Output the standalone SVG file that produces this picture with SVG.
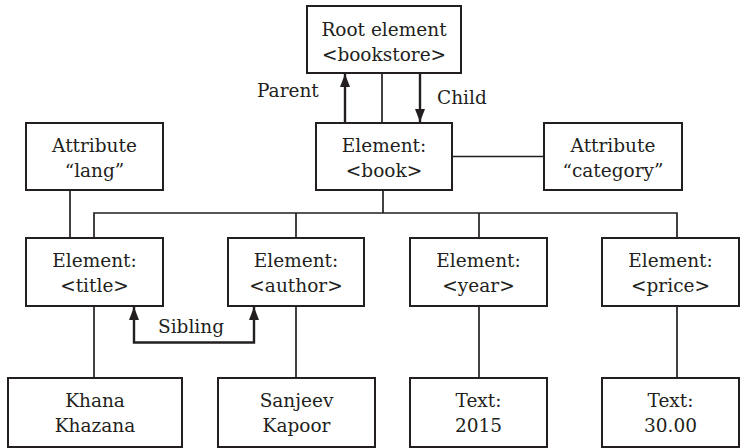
<svg xmlns="http://www.w3.org/2000/svg" width="744" height="448" viewBox="0 0 744 448">
<defs>
<marker id="ah" viewBox="0 0 13 10" refX="13" refY="5" markerUnits="userSpaceOnUse" markerWidth="13" markerHeight="10" orient="auto-start-reverse">
<path d="M0,0 L13,5 L0,10 Z" fill="#231f20"/>
</marker>
<style>
rect{fill:#fff;stroke:#231f20;stroke-width:2}
text{font-family:"DejaVu Serif","Liberation Serif",serif;font-size:18.5px;fill:#231f20;text-anchor:middle}
.ln{stroke:#231f20;stroke-width:1.7;fill:none}
.ar{stroke:#231f20;stroke-width:2.4;fill:none}
.lbl{text-anchor:start}
</style>
</defs>
<rect x="0" y="0" width="744" height="448" style="stroke:none;fill:#fff"/>
<g id="connectors">
<line class="ln" x1="382" y1="73" x2="382" y2="123"/>
<line class="ar" x1="345" y1="122" x2="345" y2="74" marker-end="url(#ah)"/>
<line class="ar" x1="420" y1="74" x2="420" y2="122" marker-end="url(#ah)"/>
<line class="ln" x1="452" y1="156.5" x2="544" y2="156.5"/>
<line class="ln" x1="383" y1="190" x2="383" y2="213"/>
<polyline class="ln" points="94,238 94,213 677,213 677,238"/>
<line class="ln" x1="296" y1="213" x2="296" y2="238"/>
<line class="ln" x1="479" y1="213" x2="479" y2="238"/>
<line class="ln" x1="70" y1="190" x2="70" y2="238"/>
<line class="ln" x1="94" y1="306" x2="94" y2="378"/>
<line class="ln" x1="296" y1="306" x2="296" y2="378"/>
<line class="ln" x1="479" y1="306" x2="479" y2="378"/>
<line class="ln" x1="677" y1="306" x2="677" y2="378"/>
<path class="ar" d="M134,307 L134,342.5 L254,342.5 L254,307" marker-start="url(#ah)" marker-end="url(#ah)"/>
<text class="lbl" x="257" y="97">Parent</text>
<text class="lbl" x="437" y="104">Child</text>
<text class="lbl" x="158" y="333">Sibling</text>
</g>
<g id="root"><rect x="307" y="6" width="154" height="67"/><text x="384" y="35.5">Root element</text><text x="384" y="60.5">&lt;bookstore&gt;</text></g>
<g id="book"><rect x="316" y="123" width="136" height="67"/><text x="384" y="151.5">Element:</text><text x="384" y="176.5">&lt;book&gt;</text></g>
<g id="lang"><rect x="26" y="123" width="137" height="67"/><text x="94.5" y="151.5">Attribute</text><text x="94.5" y="176.5">“lang”</text></g>
<g id="category"><rect x="544" y="123" width="138" height="67"/><text x="613" y="151.5">Attribute</text><text x="613" y="176.5">“category”</text></g>
<g id="title"><rect x="26" y="238" width="137" height="68"/><text x="94.5" y="266.5">Element:</text><text x="94.5" y="291.5">&lt;title&gt;</text></g>
<g id="author"><rect x="228" y="238" width="136" height="68"/><text x="296" y="266.5">Element:</text><text x="296" y="291.5">&lt;author&gt;</text></g>
<g id="year"><rect x="410" y="238" width="137" height="68"/><text x="478.5" y="266.5">Element:</text><text x="478.5" y="291.5">&lt;year&gt;</text></g>
<g id="price"><rect x="602" y="238" width="137" height="68"/><text x="670.5" y="266.5">Element:</text><text x="670.5" y="291.5">&lt;price&gt;</text></g>
<g id="khana"><rect x="8" y="378" width="174" height="69"/><text x="95" y="406.5">Khana</text><text x="95" y="432">Khazana</text></g>
<g id="sanjeev"><rect x="218" y="378" width="157" height="69"/><text x="296.5" y="406.5">Sanjeev</text><text x="296.5" y="432">Kapoor</text></g>
<g id="t2015"><rect x="410" y="378" width="137" height="69"/><text x="478.5" y="406.5">Text:</text><text x="478.5" y="432">2015</text></g>
<g id="t3000"><rect x="602" y="378" width="137" height="69"/><text x="670.5" y="406.5">Text:</text><text x="670.5" y="432">30.00</text></g>
</svg>
